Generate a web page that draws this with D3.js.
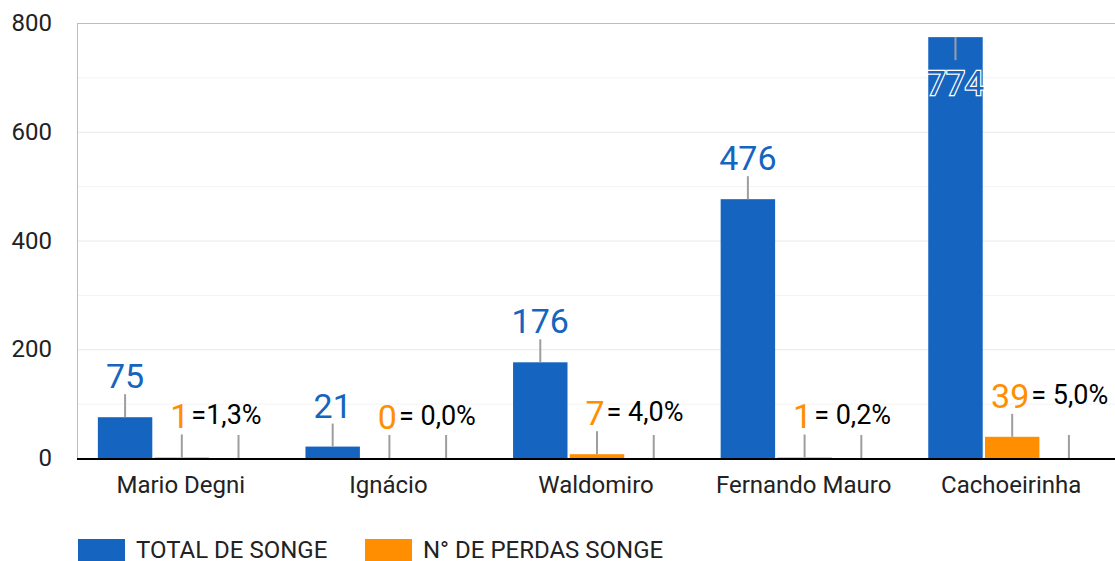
<!DOCTYPE html>
<html>
<head>
<meta charset="utf-8">
<script src="https://cdn.jsdelivr.net/npm/d3@7"></script>
<style>
  body { margin: 0; background: #fff; }
  text { font-family: Roboto, "Noto Sans", sans-serif; }
</style>
</head>
<body>
<script>
const categories = ['Mario Degni', 'Ignácio', 'Waldomiro', 'Fernando Mauro', 'Cachoeirinha']
const totalSonge = [75, 21, 176, 476, 774]
const perdasSonge = [1, 0, 7, 1, 39]
const percentLabels = ['=1,3%', '= 0,0%', '= 4,0%', '= 0,2%', '= 5,0%']
const yTicks = [0, 200, 400, 600, 800]
const seriesNames = ['TOTAL DE SONGE', 'N° DE PERDAS SONGE']

const WIDTH = 1115
const HEIGHT = 561
const BLUE = '#1565c0'
const ORANGE = '#ff8f00'
const LEADER = 23

const svg = d3.select('body').append('svg')
  .attr('width', WIDTH)
  .attr('height', HEIGHT)

const x = d3.scaleBand().domain(categories).range([77, 1115])
const sub = d3.scaleBand().domain(['total', 'perdas', 'pct'])
  .range([0, x.bandwidth()]).paddingInner(0.04).paddingOuter(0.35)
const y = d3.scaleLinear().domain([0, 800]).range([458, 23])

// grid
svg.append('g').selectAll('line')
  .data(d3.range(100, 800, 100))
  .join('line')
  .attr('x1', 77).attr('x2', WIDTH)
  .attr('y1', d => y(d) + 0.5).attr('y2', d => y(d) + 0.5)
  .attr('stroke', d => d % 200 === 0 ? '#e8e8e8' : '#f3f3f3')
svg.append('line')
  .attr('x1', 77).attr('x2', WIDTH)
  .attr('y1', y(800) + 0.5).attr('y2', y(800) + 0.5)
  .attr('stroke', '#bdbdbd')
svg.append('line')
  .attr('x1', 77.5).attr('x2', 77.5)
  .attr('y1', y(800)).attr('y2', y(0))
  .attr('stroke', '#bdbdbd')

// y axis labels
const yAxis = svg.append('g')
  .attr('transform', 'translate(52,0)')
  .call(d3.axisLeft(y).tickValues(yTicks).tickSize(0).tickPadding(0))
yAxis.select('.domain').remove()
yAxis.selectAll('text')
  .attr('font-size', 24).attr('fill', '#222')
  .attr('font-family', 'Roboto, sans-serif')

// bars
const groups = svg.append('g').selectAll('g')
  .data(categories)
  .join('g')
  .attr('transform', d => `translate(${x(d)},0)`)

groups.append('rect')
  .attr('x', sub('total') + 1)
  .attr('width', sub.bandwidth())
  .attr('y', (d, i) => y(totalSonge[i]))
  .attr('height', (d, i) => y(0) - y(totalSonge[i]))
  .attr('fill', BLUE)

groups.append('rect')
  .attr('x', sub('perdas') + 1)
  .attr('width', sub.bandwidth())
  .attr('y', (d, i) => y(perdasSonge[i]))
  .attr('height', (d, i) => y(0) - y(perdasSonge[i]))
  .attr('fill', ORANGE)

// baseline
svg.append('line')
  .attr('x1', 77).attr('x2', WIDTH)
  .attr('y1', y(0) + 1).attr('y2', y(0) + 1)
  .attr('stroke', '#000').attr('stroke-width', 2)

// leader lines and labels
const cx = key => sub(key) + sub.bandwidth() / 2 + 1
const fitsAbove = v => y(v) - LEADER - 34 > y(800)

groups.append('line')
  .attr('x1', cx('total')).attr('x2', cx('total'))
  .attr('y1', (d, i) => y(totalSonge[i]))
  .attr('y2', (d, i) => fitsAbove(totalSonge[i]) ? y(totalSonge[i]) - LEADER : y(totalSonge[i]) + LEADER)
  .attr('stroke', '#9e9e9e').attr('stroke-width', 2)

groups.append('text')
  .attr('x', cx('total'))
  .attr('y', (d, i) => fitsAbove(totalSonge[i]) ? y(totalSonge[i]) - LEADER - 6 : y(totalSonge[i]) + LEADER + 35)
  .attr('text-anchor', 'middle')
  .attr('font-size', 34)
  .attr('fill', BLUE)
  .attr('stroke', (d, i) => fitsAbove(totalSonge[i]) ? 'none' : '#fff')
  .attr('stroke-width', 2.5)
  .attr('paint-order', 'stroke')
  .text((d, i) => totalSonge[i])

groups.append('line')
  .attr('x1', cx('perdas')).attr('x2', cx('perdas'))
  .attr('y1', (d, i) => y(perdasSonge[i]))
  .attr('y2', (d, i) => y(perdasSonge[i]) - LEADER)
  .attr('stroke', '#9e9e9e').attr('stroke-width', 2)

const perdasText = groups.append('text')
  .attr('x', cx('perdas') - 2)
  .attr('y', (d, i) => y(perdasSonge[i]) - LEADER - 6)
  .attr('text-anchor', 'middle')
  .attr('font-size', 34)
  .attr('fill', ORANGE)
  .text((d, i) => perdasSonge[i])

groups.append('line')
  .attr('x1', cx('pct')).attr('x2', cx('pct'))
  .attr('y1', y(0))
  .attr('y2', y(0) - LEADER)
  .attr('stroke', '#9e9e9e').attr('stroke-width', 2)

// percentage labels sit right after the orange label
const perdasRight = perdasText.nodes().map(n => {
  const b = n.getBBox()
  return b.x + b.width
})
groups.append('text')
  .attr('x', (d, i) => perdasRight[i] + 2)
  .attr('y', (d, i) => y(perdasSonge[i]) - LEADER - 10)
  .attr('font-size', 27)
  .attr('fill', '#000')
  .text((d, i) => percentLabels[i])

// category labels
const xAxis = svg.append('g')
  .attr('transform', `translate(0,${y(0) + 18})`)
  .call(d3.axisBottom(x).tickSize(0).tickPadding(0))
xAxis.select('.domain').remove()
xAxis.selectAll('text')
  .attr('font-size', 24).attr('fill', '#222')
  .attr('font-family', 'Roboto, sans-serif')
  .attr('dy', '0.71em')

// legend
const legend = svg.append('g').attr('transform', 'translate(78,539)')
const legendX = [0, 287]
const legendColors = [BLUE, ORANGE]
seriesNames.forEach((name, i) => {
  const g = legend.append('g').attr('transform', `translate(${legendX[i]},0)`)
  g.append('rect').attr('width', 47).attr('height', 22).attr('fill', legendColors[i])
  g.append('text').attr('x', 58).attr('y', 19)
    .attr('font-size', 24).attr('fill', '#222')
    .text(name)
})
</script>
</body>
</html>
